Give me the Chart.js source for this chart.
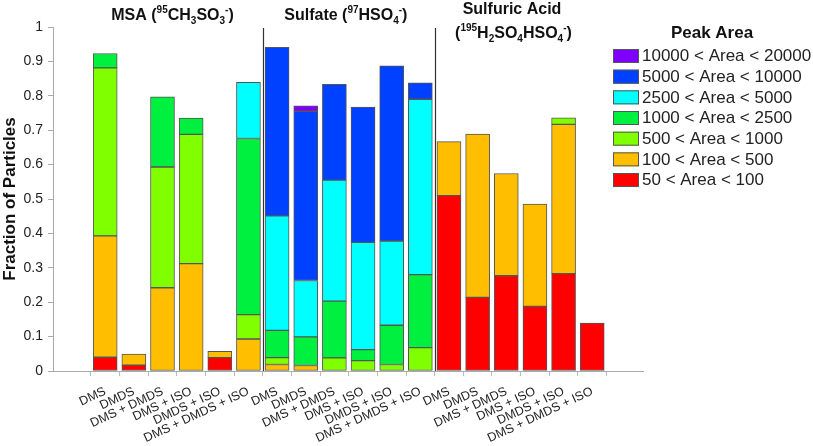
<!DOCTYPE html>
<html>
<head>
<meta charset="utf-8">
<script src="https://cdn.jsdelivr.net/npm/chart.js@4.4.0/dist/chart.umd.min.js"></script>
<style>
  html, body { margin: 0; padding: 0; background: #fff; }
</style>
</head>
<body>
<canvas id="chart" width="813" height="446"></canvas>
<script>
// bar labels (3 groups x 6 precursors)
const precursors = ["DMS", "DMDS", "DMS + DMDS", "DMS + ISO", "DMDS + ISO", "DMS + DMDS + ISO"];
const categories = [...precursors, ...precursors, ...precursors];

// peak area bins (bottom of stack first)
const binLabels = [
    "50 < Area < 100",
    "100 < Area < 500",
    "500 < Area < 1000",
    "1000 < Area < 2500",
    "2500 < Area < 5000",
    "5000 < Area < 10000",
    "10000 < Area < 20000",
];
const binColors = ["#FF0000", "#FFBF00", "#80FF00", "#00F040", "#00FFFF", "#0040FF", "#8000FF"];

// fraction of particles per bin, one value per bar (null = none)
const area50 = [0.040, 0.017, null, null, 0.039, null,
                null, null, null, null, null, null,
                0.510, 0.214, 0.277, 0.188, 0.283, 0.139];
const area100 = [0.353, 0.032, 0.242, 0.312, 0.018, 0.093,
                 0.019, 0.016, null, null, null, null,
                 0.157, 0.475, 0.297, 0.297, 0.434, null];
const area500 = [0.488, null, 0.351, 0.376, null, 0.071,
                 0.020, null, 0.038, 0.030, 0.019, 0.068,
                 null, null, null, null, 0.019, null];
const area1000 = [0.042, null, 0.204, 0.047, null, 0.512,
                  0.079, 0.083, 0.165, 0.032, 0.114, 0.212,
                  null, null, null, null, null, null];
const area2500 = [null, null, null, null, null, 0.163,
                  0.333, 0.164, 0.352, 0.312, 0.245, 0.510,
                  null, null, null, null, null, null];
const area5000 = [null, null, null, null, null, null,
                  0.490, 0.492, 0.278, 0.393, 0.509, 0.048,
                  null, null, null, null, null, null];
const area10000 = [null, null, null, null, null, null,
                   null, 0.016, null, null, null, null,
                   null, null, null, null, null, null];
const binValues = [area50, area100, area500, area1000, area2500, area5000, area10000];

const yTicks = [0, 0.1, 0.2, 0.3, 0.4, 0.5, 0.6, 0.7, 0.8, 0.9, 1];

const FONT = "'Liberation Sans', Arial, sans-serif";

// titles with super/subscripts: [text, "n" | "sup" | "sub"]
const groupTitles = [
    { x: 3.35, base: 20, parts: [["MSA (", "n"], ["95", "sup"], ["CH", "n"], ["3", "sub"], ["SO", "n"], ["3", "sub"], ["-", "sup"], [")", "n"]] },
    { x: 9.4, base: 20, parts: [["Sulfate (", "n"], ["97", "sup"], ["HSO", "n"], ["4", "sub"], ["-", "sup"], [")", "n"]] },
    { x: 15.2, base: 14, parts: [["Sulfuric Acid", "n"]] },
    { x: 15.25, base: 38, parts: [["(", "n"], ["195", "sup"], ["H", "n"], ["2", "sub"], ["SO", "n"], ["4", "sub"], ["HSO", "n"], ["4", "sub"], ["-", "sup"], [")", "n"]] },
];

function drawRich(ctx, parts, cx, base) {
    const fontFor = (k) => k === "n" ? "bold 16px " + FONT : "bold 10px " + FONT;
    let total = 0;
    parts.forEach(([t, k]) => { ctx.font = fontFor(k); total += ctx.measureText(t).width; });
    let x = cx - total / 2;
    parts.forEach(([t, k]) => {
        ctx.font = fontFor(k);
        const dy = k === "sup" ? -7 : k === "sub" ? 4 : 0;
        ctx.fillText(t, x, base + dy);
        x += ctx.measureText(t).width;
    });
}

const overlay = {
    id: "overlay",
    afterDraw(chart) {
        const { ctx, scales } = chart;
        const xs = scales.x, ys = scales.y;
        ctx.save();

        // group separators
        ctx.strokeStyle = "#333";
        ctx.lineWidth = 1.2;
        [6.5, 12.5].forEach((v) => {
            const px = Math.round(xs.getPixelForValue(v)) + 0.5;
            ctx.beginPath();
            ctx.moveTo(px, ys.getPixelForValue(1) + 1);
            ctx.lineTo(px, ys.getPixelForValue(0));
            ctx.stroke();
        });

        // group titles
        ctx.fillStyle = "#111";
        ctx.textBaseline = "alphabetic";
        ctx.textAlign = "left";
        groupTitles.forEach((g) => drawRich(ctx, g.parts, xs.getPixelForValue(g.x), g.base));

        // legend
        ctx.font = "bold 17px " + FONT;
        ctx.textAlign = "center";
        ctx.fillText("Peak Area", 712, 38);
        ctx.textAlign = "left";
        ctx.textBaseline = "middle";
        ctx.font = "17px " + FONT;
        for (let k = 0; k < binLabels.length; k++) {
            const i = binLabels.length - 1 - k;
            const top = 49 + k * 20.67;
            ctx.fillStyle = binColors[i];
            ctx.fillRect(613, top, 26, 14);
            ctx.strokeStyle = "#555";
            ctx.lineWidth = 1;
            ctx.strokeRect(613.5, top + 0.5, 25, 13);
            ctx.fillStyle = "#222";
            ctx.fillText(binLabels[i], 642, top + 7.5);
        }
        ctx.restore();
    },
};

new Chart(document.getElementById("chart"), {
    type: "bar",
    data: {
        datasets: binValues.map((vals, i) => ({
            label: binLabels[i],
            data: vals.map((v, j) => ({ x: j + 1, y: v })),
            backgroundColor: binColors[i],
            borderColor: "#555",
            borderWidth: 1,
            borderSkipped: false,
            barThickness: 24,
        })),
    },
    options: {
        responsive: false,
        animation: false,
        layout: { padding: { top: 27, right: 170, left: 0, bottom: 0 } },
        plugins: { legend: { display: false }, tooltip: { enabled: false } },
        scales: {
            x: {
                type: "linear",
                stacked: true,
                min: -0.25,
                max: 19.2,
                afterBuildTicks: (scale) => {
                    scale.ticks = categories.map((_, i) => ({ value: i + 1 }));
                },
                afterFit: (scale) => { scale.height = 75; },
                ticks: {
                    autoSkip: false,
                    minRotation: 25,
                    maxRotation: 25,
                    padding: 8,
                    labelOffset: 0,
                    color: "#222",
                    font: { family: FONT, size: 12.5 },
                    callback: (v) => categories[v - 1],
                },
                grid: { drawOnChartArea: false, tickLength: 5, color: "#bbb" },
                border: { color: "#aaa" },
            },
            y: {
                stacked: true,
                min: 0,
                max: 1,
                afterBuildTicks: (scale) => {
                    scale.ticks = yTicks.map((v) => ({ value: v }));
                },
                afterFit: (scale) => { scale.width = 53; },
                ticks: {
                    padding: 5,
                    color: "#222",
                    font: { family: FONT, size: 14 },
                    callback: (v) => String(v),
                },
                grid: { drawOnChartArea: false, tickLength: 5, color: "#aaa" },
                border: { color: "#aaa" },
                title: {
                    display: true,
                    text: "Fraction of Particles",
                    color: "#111",
                    padding: 0,
                    font: { family: FONT, size: 17, weight: "bold" },
                },
            },
        },
    },
    plugins: [overlay],
});
</script>
</body>
</html>
